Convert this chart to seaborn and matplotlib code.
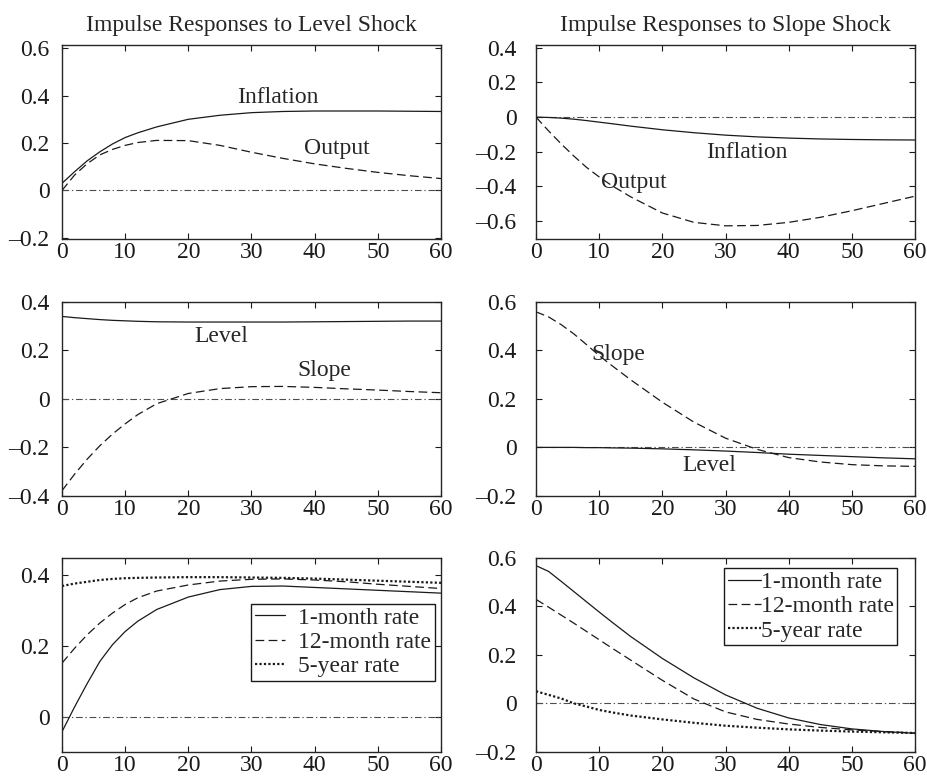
import matplotlib
matplotlib.use("Agg")
import matplotlib.pyplot as plt
import seaborn as sns

# horizon in months
MONTHS = [0, 2, 4, 6, 8, 10, 12, 15, 20, 25, 30, 35, 40, 45, 50, 55, 60]

# level shock
lvl_inflation = [0.030, 0.079, 0.125, 0.163, 0.196, 0.223, 0.243, 0.268, 0.300, 0.317,
                 0.328, 0.333, 0.335, 0.335, 0.335, 0.334, 0.333]
lvl_output = [0.000, 0.065, 0.113, 0.150, 0.173, 0.190, 0.202, 0.211, 0.210, 0.190,
              0.161, 0.135, 0.112, 0.093, 0.076, 0.062, 0.050]
lvl_level = [0.339, 0.334, 0.330, 0.326, 0.323, 0.321, 0.319, 0.317, 0.316, 0.316,
             0.316, 0.316, 0.317, 0.318, 0.319, 0.320, 0.320]
lvl_slope = [-0.378, -0.310, -0.248, -0.193, -0.145, -0.103, -0.065, -0.020, 0.022, 0.042,
             0.050, 0.051, 0.047, 0.041, 0.036, 0.030, 0.025]
lvl_1m = [-0.042, 0.028, 0.094, 0.156, 0.203, 0.240, 0.269, 0.302, 0.337, 0.358,
          0.367, 0.368, 0.364, 0.360, 0.356, 0.352, 0.348]
lvl_12m = [0.151, 0.193, 0.231, 0.264, 0.292, 0.316, 0.335, 0.354, 0.371, 0.382,
           0.387, 0.388, 0.385, 0.380, 0.373, 0.367, 0.361]
lvl_5y = [0.368, 0.375, 0.380, 0.385, 0.388, 0.390, 0.391, 0.392, 0.393, 0.393,
          0.392, 0.391, 0.389, 0.386, 0.383, 0.380, 0.377]

# slope shock
slp_inflation = [0.000, -0.002, -0.006, -0.012, -0.020, -0.029, -0.038, -0.052, -0.073, -0.090,
                 -0.104, -0.114, -0.121, -0.126, -0.129, -0.131, -0.132]
slp_output = [0.000, -0.080, -0.155, -0.225, -0.290, -0.345, -0.395, -0.460, -0.553, -0.607,
              -0.627, -0.625, -0.607, -0.578, -0.540, -0.498, -0.456]
slp_slope = [0.558, 0.537, 0.505, 0.467, 0.423, 0.378, 0.337, 0.278, 0.186, 0.104,
             0.038, -0.008, -0.042, -0.060, -0.071, -0.076, -0.078]
slp_level = [0.000, 0.000, 0.000, 0.000, -0.001, -0.001, -0.002, -0.003, -0.006, -0.010,
             -0.015, -0.021, -0.028, -0.033, -0.038, -0.043, -0.047]
slp_1m = [0.567, 0.543, 0.502, 0.460, 0.418, 0.376, 0.335, 0.275, 0.185, 0.105,
          0.035, -0.020, -0.060, -0.087, -0.105, -0.116, -0.123]
slp_12m = [0.428, 0.396, 0.363, 0.330, 0.296, 0.262, 0.228, 0.178, 0.095, 0.018,
           -0.035, -0.066, -0.085, -0.099, -0.109, -0.116, -0.122]
slp_5y = [0.050, 0.035, 0.020, 0.000, -0.013, -0.027, -0.037, -0.050, -0.066, -0.080,
          -0.092, -0.100, -0.107, -0.112, -0.116, -0.119, -0.122]

ZERO = [0.0] * len(MONTHS)
RATE_LABELS = ["1-month rate", "12-month rate", "5-year rate"]

sns.set_style("ticks")
plt.rcParams["font.family"] = ["Liberation Serif", "DejaVu Serif"]
plt.rcParams["font.size"] = 17

SOLID = "-"
DASHED = (0, (7, 3.5))
DOTTED = (0, (1, 1))
DASHDOT = (0, (6, 2.5, 1.2, 2.5))

fig = plt.figure(figsize=(9.28, 7.79), dpi=100)

W = 0.4084
H = 0.2495
lefts = [0.0668, 0.5776]
bottoms = [0.6932, 0.3633, 0.0347]
ylims = [[(-0.205, 0.615), (-0.703, 0.418)],
         [(-0.4, 0.4), (-0.2, 0.6)],
         [(-0.099, 0.448), (-0.2, 0.6)]]
yticks = [[[-0.2, 0, 0.2, 0.4, 0.6], [-0.6, -0.4, -0.2, 0, 0.2, 0.4]],
          [[-0.4, -0.2, 0, 0.2, 0.4], [-0.2, 0, 0.2, 0.4, 0.6]],
          [[0, 0.2, 0.4], [-0.2, 0, 0.2, 0.4, 0.6]]]


def fmt(v):
    if abs(v) < 1e-9:
        return "0"
    return ("%.1f" % v).replace("-", "\u2013")


axes = [[None, None], [None, None], [None, None]]
for r in range(3):
    for c in range(2):
        ax = fig.add_axes([lefts[c], bottoms[r], W, H])
        axes[r][c] = ax
        sns.lineplot(x=MONTHS, y=ZERO, ax=ax, color="0.3", linewidth=0.8, linestyle=DASHDOT)
        ax.set_xlim(0, 60)
        ax.set_ylim(*ylims[r][c])
        ax.set_xticks(range(0, 61, 10))
        ax.set_yticks(yticks[r][c])
        ax.set_yticklabels([fmt(v) for v in yticks[r][c]])
        ax.tick_params(direction="in", top=True, right=True, length=4, width=0.8,
                       labelsize=17, colors="0.1")
        ax.tick_params(axis="x", pad=2)
        ax.tick_params(axis="y", pad=9 if c == 0 else 14)
        for s in ax.spines.values():
            s.set_visible(True)
            s.set_linewidth(1.0)
            s.set_color("0.15")

LW = 0.9
INK = "0.1"

# row 1
ax = axes[0][0]
sns.lineplot(x=MONTHS, y=lvl_inflation, ax=ax, color=INK, linewidth=LW, linestyle=SOLID)
sns.lineplot(x=MONTHS, y=lvl_output, ax=ax, color=INK, linewidth=LW, linestyle=DASHED)
ax.text(34.2, 0.39, "Inflation", ha="center", va="center", fontsize=17)
ax.text(43.5, 0.177, "Output", ha="center", va="center", fontsize=17)
ax.set_title("Impulse Responses to Level Shock", fontsize=17, pad=10)

ax = axes[0][1]
sns.lineplot(x=MONTHS, y=slp_inflation, ax=ax, color=INK, linewidth=LW, linestyle=SOLID)
sns.lineplot(x=MONTHS, y=slp_output, ax=ax, color=INK, linewidth=LW, linestyle=DASHED)
ax.text(33.4, -0.206, "Inflation", ha="center", va="center", fontsize=17)
ax.text(15.5, -0.377, "Output", ha="center", va="center", fontsize=17)
ax.set_title("Impulse Responses to Slope Shock", fontsize=17, pad=10)

# row 2
ax = axes[1][0]
sns.lineplot(x=MONTHS, y=lvl_level, ax=ax, color=INK, linewidth=LW, linestyle=SOLID)
sns.lineplot(x=MONTHS, y=lvl_slope, ax=ax, color=INK, linewidth=LW, linestyle=DASHED)
ax.text(25.2, 0.257, "Level", ha="center", va="center", fontsize=17)
ax.text(41.6, 0.116, "Slope", ha="center", va="center", fontsize=17)

ax = axes[1][1]
sns.lineplot(x=MONTHS, y=slp_level, ax=ax, color=INK, linewidth=LW, linestyle=SOLID)
sns.lineplot(x=MONTHS, y=slp_slope, ax=ax, color=INK, linewidth=LW, linestyle=DASHED)
ax.text(13.1, 0.383, "Slope", ha="center", va="center", fontsize=17)
ax.text(27.4, -0.075, "Level", ha="center", va="center", fontsize=17)

# row 3: yields
for c, (a, b, d) in enumerate([(lvl_1m, lvl_12m, lvl_5y), (slp_1m, slp_12m, slp_5y)]):
    ax = axes[2][c]
    sns.lineplot(x=MONTHS, y=a, ax=ax, color=INK, linewidth=LW, linestyle=SOLID, label=RATE_LABELS[0])
    sns.lineplot(x=MONTHS, y=b, ax=ax, color=INK, linewidth=LW, linestyle=DASHED, label=RATE_LABELS[1])
    sns.lineplot(x=MONTHS, y=d, ax=ax, color=INK, linewidth=1.6, linestyle=DOTTED, label=RATE_LABELS[2])

leg_opts = dict(fontsize=17, frameon=True, fancybox=False, framealpha=1, edgecolor="0.1",
                borderaxespad=0, labelspacing=0.12, borderpad=0.15)
l1 = axes[2][0].legend(loc="upper right", bbox_to_anchor=(0.984, 0.763), handlelength=1.3,
                       handletextpad=0.55, **leg_opts)
l2 = axes[2][1].legend(loc="upper right", bbox_to_anchor=(0.953, 0.948), handlelength=1.4,
                       handletextpad=0.0, **leg_opts)
for lg in (l1, l2):
    lg.get_frame().set_linewidth(1.0)

fig.savefig("out.png", dpi=100)
